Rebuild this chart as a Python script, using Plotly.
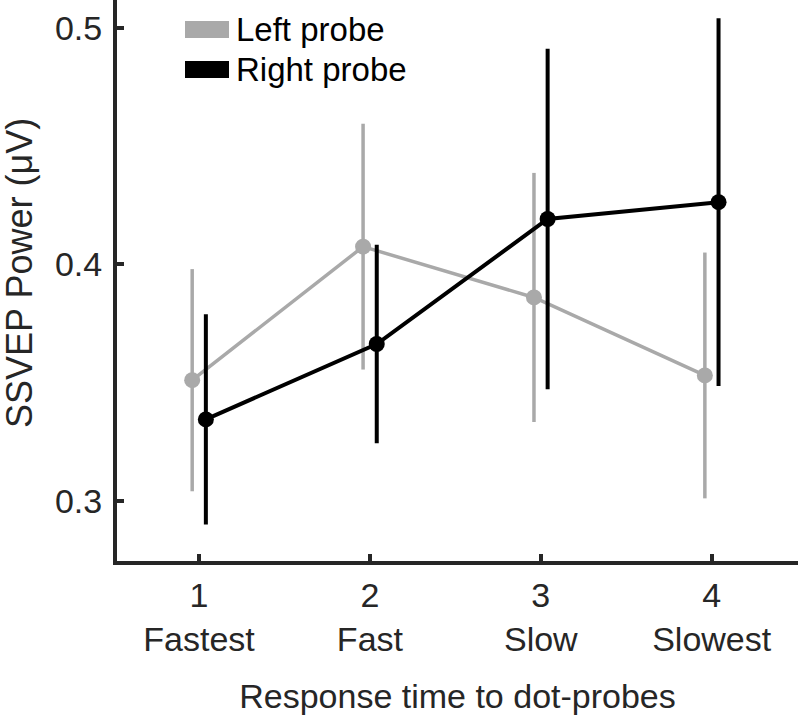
import plotly.graph_objects as go

# ---- data ----
categories = [1, 2, 3, 4]
tick_names = ["Fastest", "Fast", "Slow", "Slowest"]
y_ticks = [0.3, 0.4, 0.5]
y_tick_labels = ["0.3", "0.4", "0.5"]

left_mean = [0.351, 0.4075, 0.386, 0.353]
left_err = [0.047, 0.052, 0.0527, 0.052]
right_mean = [0.3344, 0.3663, 0.4192, 0.4263]
right_err = [0.0445, 0.042, 0.072, 0.0778]

series_names = ["Left probe", "Right probe"]
x_title = "Response time to dot-probes"
y_title = "SSVEP Power (μV)"

# ---- styling ----
OFFSET = 0.04
GRAY = "#a9a9a9"
BLACK = "#000000"
AXIS = "#262626"
FONT = "Liberation Sans, Arial, sans-serif"

W, H = 800, 716
ML, MR, MT, MB = 117, 2, 0, 155
PW, PH = W - ML - MR, H - MT - MB

def px_x(p):
    return (p - ML) / PW

def px_y(p):
    return (MT + PH - p) / PH

fig = go.Figure()

fig.add_trace(go.Scatter(
    x=[c - OFFSET for c in categories], y=left_mean,
    mode="lines+markers", name=series_names[0],
    line=dict(color=GRAY, width=3.5),
    marker=dict(color=GRAY, size=16),
    error_y=dict(type="data", array=left_err, color=GRAY, thickness=3.5, width=0),
    showlegend=False,
))
fig.add_trace(go.Scatter(
    x=[c + OFFSET for c in categories], y=right_mean,
    mode="lines+markers", name=series_names[1],
    line=dict(color=BLACK, width=4),
    marker=dict(color=BLACK, size=16),
    error_y=dict(type="data", array=right_err, color=BLACK, thickness=4, width=0),
    showlegend=False,
))

# manual legend (thick colour patches + labels)
shapes = []
annotations = []
legend_rows = [(series_names[0], GRAY, 21, 38, 30), (series_names[1], BLACK, 61, 78, 70)]
for name, col, y0, y1, yt in legend_rows:
    shapes.append(dict(type="rect", xref="paper", yref="paper",
                       x0=px_x(185), x1=px_x(229), y0=px_y(y1), y1=px_y(y0),
                       fillcolor=col, line=dict(width=0)))
    annotations.append(dict(text=name, xref="paper", yref="paper",
                            x=px_x(234), y=px_y(yt), xanchor="left", yanchor="middle",
                            showarrow=False, font=dict(family=FONT, size=33, color="#000000")))

# y-axis title placed as rotated text
annotations.append(dict(text=y_title, xref="paper", yref="paper",
                        x=px_x(20), y=px_y(273), xanchor="center", yanchor="middle",
                        textangle=-90, showarrow=False,
                        font=dict(family=FONT, size=36, color=AXIS)))

fig.update_layout(
    width=W, height=H,
    margin=dict(l=ML, r=MR, t=MT, b=MB, autoexpand=False),
    paper_bgcolor="white", plot_bgcolor="white",
    font=dict(family=FONT, color=AXIS),
    shapes=shapes, annotations=annotations,
    showlegend=False,
)

fig.update_xaxes(
    range=[0.52, 4.505], automargin=False,
    tickmode="array", tickvals=categories,
    ticktext=[f"{c}<br>{n}" for c, n in zip(categories, tick_names)],
    ticks="inside", ticklen=7, tickwidth=4, tickcolor=AXIS,
    showline=True, linecolor=AXIS, linewidth=4,
    showgrid=False, zeroline=False,
    tickfont=dict(family=FONT, size=34, color=AXIS),
    ticklabelstandoff=1,
    title=dict(text=x_title, font=dict(family=FONT, size=34, color=AXIS), standoff=28),
)
fig.update_yaxes(
    range=[0.2745, 0.51185], automargin=False,
    tickmode="array", tickvals=y_ticks, ticktext=y_tick_labels,
    ticks="inside", ticklen=7, tickwidth=4, tickcolor=AXIS,
    showline=True, linecolor=AXIS, linewidth=4,
    showgrid=False, zeroline=False,
    tickfont=dict(family=FONT, size=34, color=AXIS),
    ticklabelstandoff=4,
)

fig.write_html("out.html", config={"displayModeBar": False},
               post_script="document.body.style.margin='0';")
